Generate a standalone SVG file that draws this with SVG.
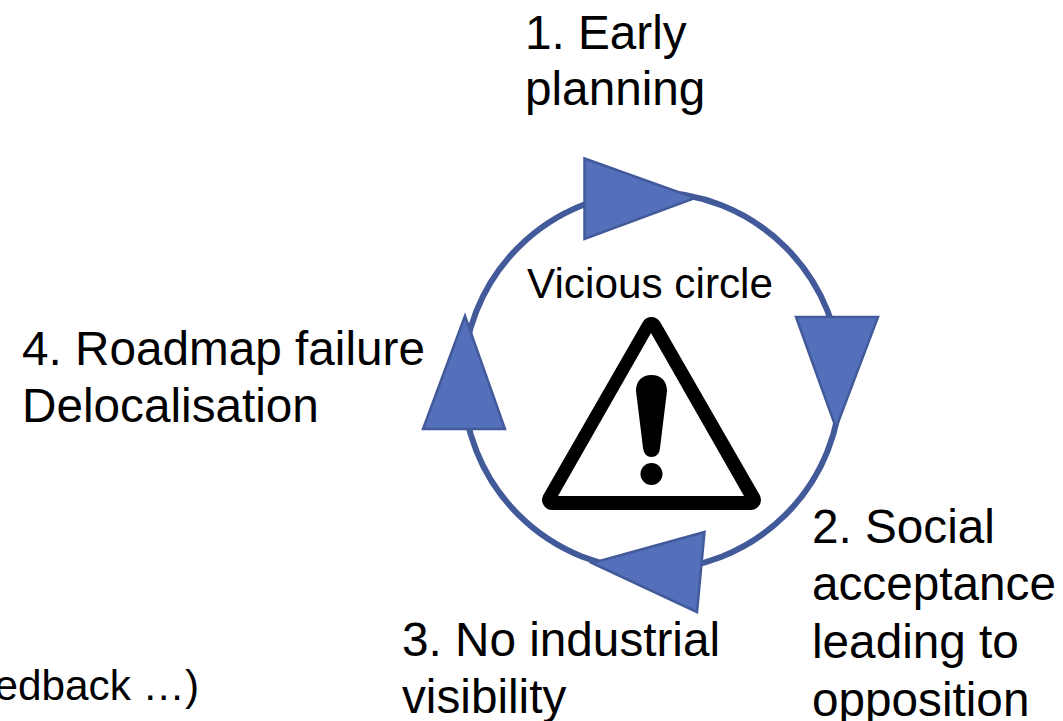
<svg xmlns="http://www.w3.org/2000/svg" width="1063" height="721" viewBox="0 0 1063 721">
<style>
text{font-family:"Liberation Sans",Arial,sans-serif;fill:#000}
.l{font-size:47.700px}
.v{font-size:42.300px}
.s{font-size:42.300px}
.h{fill:#5470bb;stroke:#435a9a;stroke-width:2.500;stroke-linejoin:miter}
</style>
<rect width="1063" height="721" fill="#fff"/>
<g id="connectors">
<circle cx="652" cy="381" r="189" fill="none" stroke="#435a9a" stroke-width="6"/>
<polygon class="h" points="584.500,158.500 695,198 584.500,239"/>
<polygon class="h" points="796,317 878,317 836,428"/>
<polygon class="h" points="704.500,532 697,612 592,563"/>
<polygon class="h" points="465,316 505,429 423,429"/>
</g>
<g id="warning">
<polygon points="651.500,327 552,500 751,500" fill="#000" stroke="#000" stroke-width="20" stroke-linejoin="round"/>
<polygon points="651,333 558,496 744,496" fill="#fff"/>
<path d="M636,391 C636,381 642,375 651.500,375 C661,375 667,381 667,391 L660,448 C659.500,454 656,457 651.500,457 C647,457 644,454 643,448 Z" fill="#000"/>
<circle cx="651.500" cy="474" r="11" fill="#000"/>
</g>
<g id="node-center"><text class="v" x="527" y="298">Vicious circle</text></g>
<g id="node-1"><text class="l" x="525" y="49">1. Early</text><text class="l" x="525" y="105">planning</text></g>
<g id="node-2"><text class="l" x="812" y="543">2. Social</text><text class="l" x="812" y="600">acceptance</text><text class="l" x="812" y="658">leading to</text><text class="l" x="812" y="716">opposition</text></g>
<g id="node-3"><text class="l" x="402" y="656">3. No industrial</text><text class="l" x="402" y="713">visibility</text></g>
<g id="node-4"><text class="l" x="22" y="365">4. Roadmap failure</text><text class="l" x="22" y="422">Delocalisation</text></g>
<g id="note"><text class="s" x="199" y="700" text-anchor="end">edback …)</text></g>
</svg>
